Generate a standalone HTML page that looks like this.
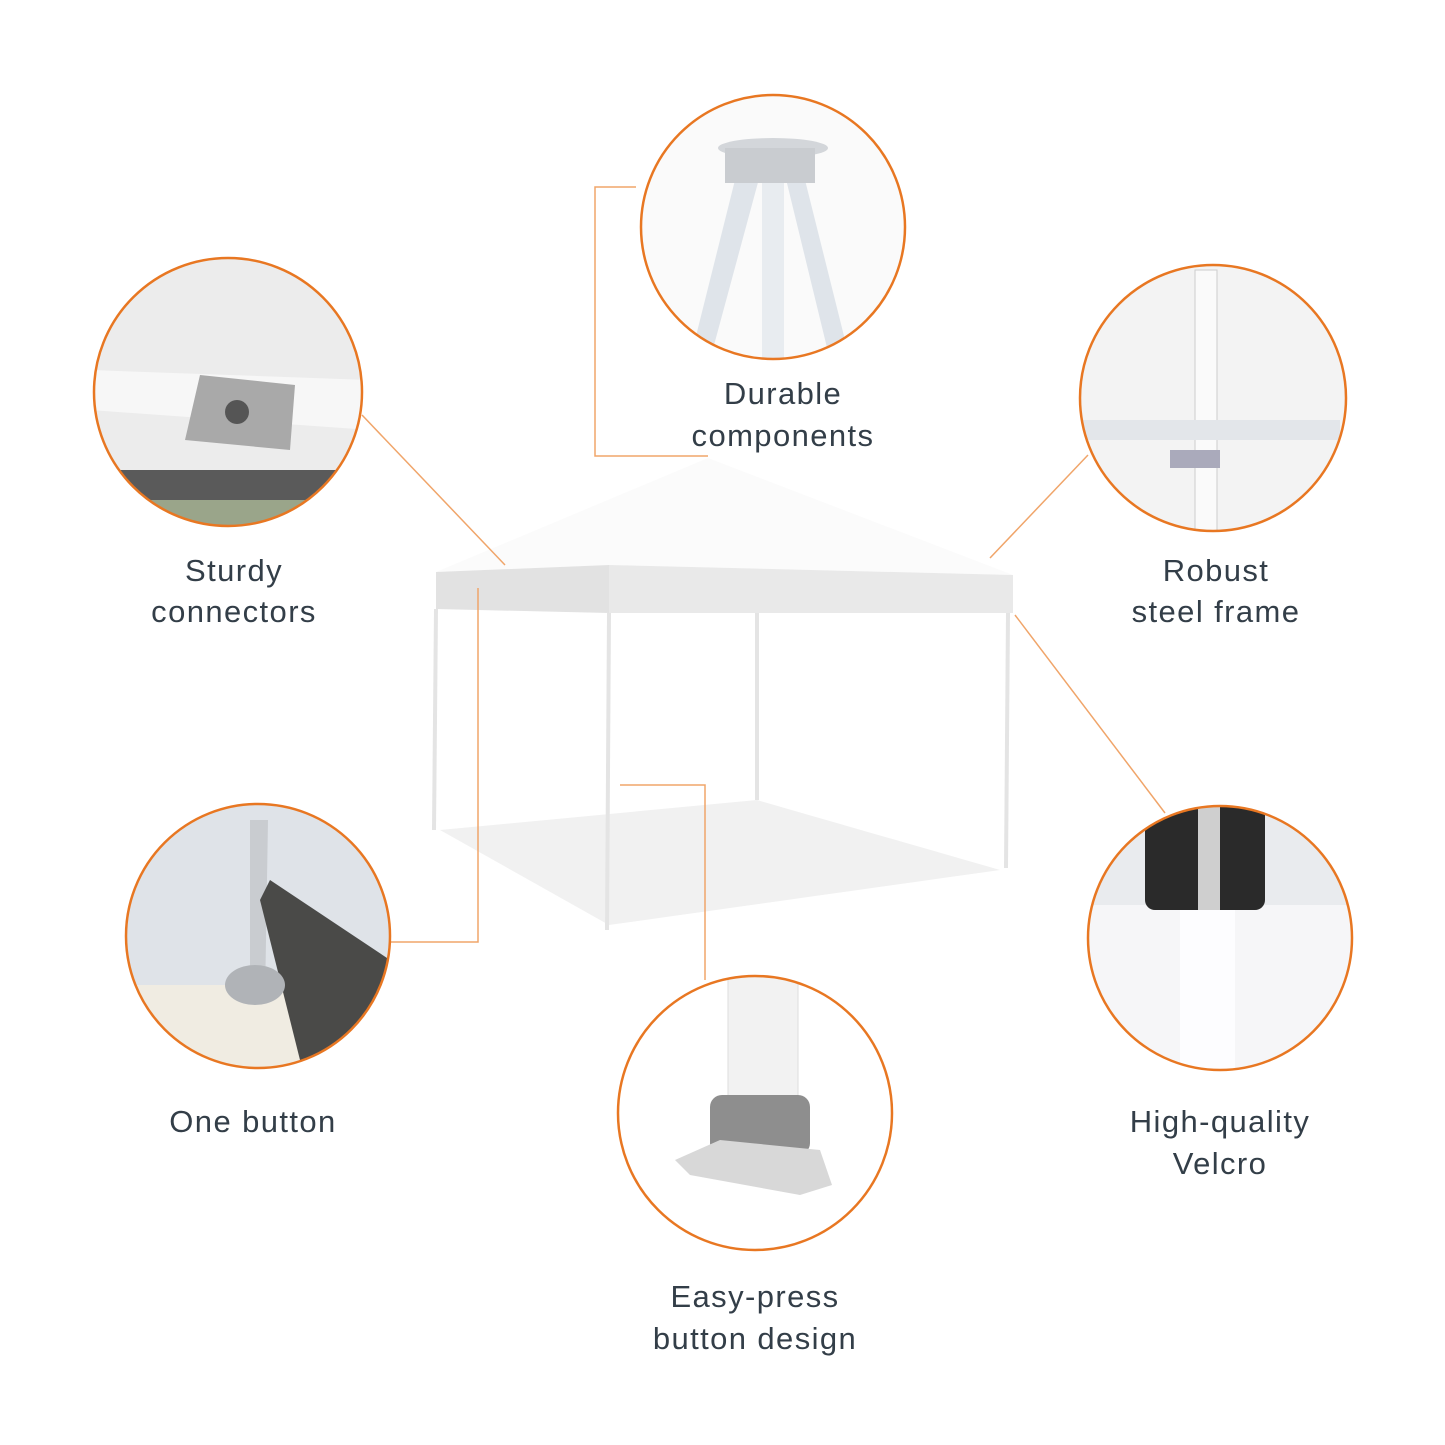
<!DOCTYPE html>
<html><head><style>
html,body{margin:0;padding:0;background:#fff}
svg{display:block}
text{font-family:"Liberation Sans","DejaVu Sans",sans-serif;font-size:31px;fill:#333e48;text-anchor:middle;letter-spacing:1.4px}
</style></head><body>
<svg width="1445" height="1445" viewBox="0 0 1445 1445" xmlns="http://www.w3.org/2000/svg">
<defs>
<clipPath id="c1"><circle cx="773" cy="227" r="132"/></clipPath>
<clipPath id="c2"><circle cx="228" cy="392" r="134"/></clipPath>
<clipPath id="c3"><circle cx="1213" cy="398" r="133"/></clipPath>
<clipPath id="c4"><circle cx="258" cy="936" r="132"/></clipPath>
<clipPath id="c5"><circle cx="755" cy="1113" r="137"/></clipPath>
<clipPath id="c6"><circle cx="1220" cy="938" r="132"/></clipPath>
</defs>
<!-- tent -->
<polygon points="440,830 757,800 1000,870 609,925" fill="#f1f1f1"/>
<polygon points="708,458 436,572 609,565 1013,575" fill="#fbfbfb"/>
<polygon points="436,572 609,565 609,613 436,609" fill="#e2e2e2"/>
<polygon points="609,565 1013,575 1013,613 609,613" fill="#e9e9e9"/>
<g stroke="#e4e4e4" stroke-width="4">
<line x1="436" y1="609" x2="434" y2="830"/>
<line x1="609" y1="613" x2="607" y2="930"/>
<line x1="757" y1="613" x2="757" y2="800"/>
<line x1="1008" y1="613" x2="1006" y2="868"/>
</g>
<g stroke="#f0a56a" stroke-width="1.5" fill="none">
<polyline points="636,187 595,187 595,456 708,456"/>
<line x1="362" y1="415" x2="505" y2="565"/>
<line x1="1088" y1="455" x2="990" y2="558"/>
<line x1="1015" y1="615" x2="1165" y2="813"/>
<polyline points="390,942 478,942 478,588"/>
<polyline points="620,785 705,785 705,980"/>
</g>
<!-- circle 1 -->
<g clip-path="url(#c1)"><rect x="630" y="90" width="290" height="280" fill="#fafafa"/>
<polygon points="740,160 690,360 710,360 760,175" fill="#dfe4ea"/>
<polygon points="800,160 850,360 830,360 785,175" fill="#dfe4ea"/>
<rect x="762" y="170" width="22" height="200" fill="#e8ecf0"/>
<ellipse cx="773" cy="148" rx="55" ry="10" fill="#d3d6da"/>
<rect x="725" y="148" width="90" height="35" fill="#c9ccd0"/></g>
<circle cx="773" cy="227" r="132" fill="none" stroke="#e87722" stroke-width="2.5"/>
<!-- circle 2 -->
<g clip-path="url(#c2)"><rect x="90" y="255" width="280" height="280" fill="#ececec"/>
<rect x="90" y="470" width="280" height="30" fill="#5a5a5a"/>
<rect x="90" y="500" width="280" height="40" fill="#9aa58a"/>
<polygon points="90,370 370,380 370,430 90,410" fill="#f7f7f7"/>
<polygon points="200,375 295,385 290,450 185,440" fill="#a9a9a9"/>
<circle cx="237" cy="412" r="12" fill="#555"/></g>
<circle cx="228" cy="392" r="134" fill="none" stroke="#e87722" stroke-width="2.5"/>
<!-- circle 3 -->
<g clip-path="url(#c3)"><rect x="1075" y="262" width="280" height="280" fill="#f3f3f3"/>
<rect x="1195" y="270" width="22" height="270" fill="#fafafa" stroke="#ccc"/>
<polygon points="1080,420 1340,420 1340,440 1080,440" fill="#e3e6ea"/>
<rect x="1170" y="450" width="50" height="18" fill="#aab"/></g>
<circle cx="1213" cy="398" r="133" fill="none" stroke="#e87722" stroke-width="2.5"/>
<!-- circle 4 -->
<g clip-path="url(#c4)"><rect x="120" y="800" width="280" height="280" fill="#dfe3e8"/>
<rect x="120" y="985" width="280" height="90" fill="#f0ece2"/>
<polygon points="250,820 268,820 265,1000 250,1000" fill="#c9ccd0"/>
<polygon points="270,880 390,960 390,1060 300,1060 260,900" fill="#4a4a48"/>
<ellipse cx="255" cy="985" rx="30" ry="20" fill="#b0b3b7"/></g>
<circle cx="258" cy="936" r="132" fill="none" stroke="#e87722" stroke-width="2.5"/>
<!-- circle 5 -->
<g clip-path="url(#c5)"><rect x="615" y="975" width="280" height="280" fill="#fff"/>
<rect x="728" y="975" width="70" height="130" fill="#f2f2f2" stroke="#ddd"/>
<rect x="710" y="1095" width="100" height="60" rx="12" fill="#8e8e8e"/>
<polygon points="675,1160 720,1140 820,1150 832,1185 800,1195 690,1175" fill="#d8d8d8"/></g>
<circle cx="755" cy="1113" r="137" fill="none" stroke="#e87722" stroke-width="2.5"/>
<!-- circle 6 -->
<g clip-path="url(#c6)"><rect x="1085" y="800" width="280" height="280" fill="#e9ebee"/>
<rect x="1085" y="905" width="280" height="170" fill="#f6f6f8"/>
<rect x="1145" y="800" width="120" height="110" rx="10" fill="#2a2a2a"/>
<rect x="1198" y="800" width="22" height="110" fill="#cfcfcf"/>
<rect x="1180" y="910" width="55" height="160" fill="#fdfdff"/></g>
<circle cx="1220" cy="938" r="132" fill="none" stroke="#e87722" stroke-width="2.5"/>
<text x="783" y="404">Durable</text>
<text x="783" y="446">components</text>
<text x="234" y="581">Sturdy</text>
<text x="234" y="622">connectors</text>
<text x="1216" y="581">Robust</text>
<text x="1216" y="622">steel frame</text>
<text x="253" y="1132">One button</text>
<text x="1220" y="1132">High-quality</text>
<text x="1220" y="1174">Velcro</text>
<text x="755" y="1307">Easy-press</text>
<text x="755" y="1349">button design</text>
</svg>
</body></html>
